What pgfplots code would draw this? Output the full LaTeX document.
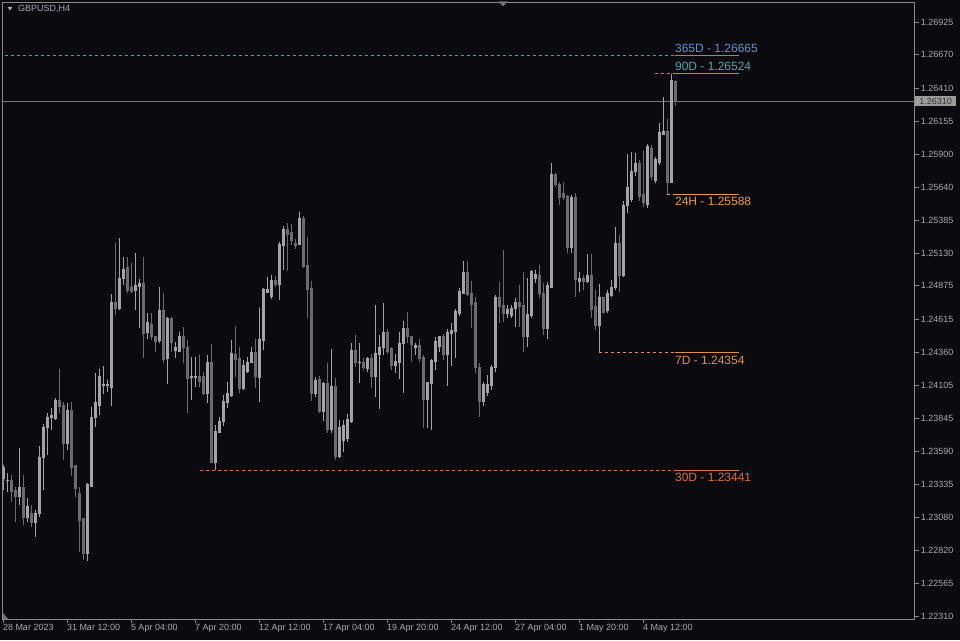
\documentclass[border=0pt]{standalone}
\usepackage{pgfplots}
\pgfplotsset{compat=1.18}
\usepackage{pgfplotstable}
\usepackage{fontspec}
\setmainfont{Liberation Sans}
\definecolor{bg}{HTML}{0B0B0F}
\definecolor{axisc}{HTML}{8A8A8A}
\definecolor{labc}{HTML}{A6A8AE}
\definecolor{bull}{HTML}{A3A3AA}
\definecolor{bear}{HTML}{6C6C70}
\definecolor{pricec}{HTML}{767676}
\definecolor{pricebox}{HTML}{9C9C9C}
\definecolor{lvA}{HTML}{5A92D2}
\definecolor{lvB}{HTML}{52A6AC}
\definecolor{lvC}{HTML}{E29C4E}
\definecolor{lvD}{HTML}{DD914C}
\definecolor{lvE}{HTML}{DA7040}
\newcommand\fsnine{\fontsize{9}{10}\selectfont}
\newcommand\fstw{\fontsize{12}{13}\selectfont}
\pgfplotstableread{
i o h l c
0 1.23382 1.23483 1.23289 1.23467
1 1.23366 1.23421 1.23273 1.23366
2 1.23366 1.23405 1.23195 1.23281
3 1.23289 1.23312 1.23040 1.23242
4 1.23242 1.23615 1.23172 1.23312
5 1.23312 1.23405 1.23017 1.23079
6 1.23079 1.23227 1.23040 1.23164
7 1.23110 1.23172 1.23001 1.23040
8 1.23040 1.23133 1.22924 1.23110
9 1.23110 1.23631 1.23079 1.23545
10 1.23545 1.23802 1.23289 1.23778
11 1.23778 1.23887 1.23561 1.23856
12 1.23856 1.23926 1.23755 1.23871
13 1.23848 1.24004 1.23833 1.23988
14 1.23988 1.24229 1.23887 1.23941
15 1.23949 1.23972 1.23522 1.23654
16 1.23654 1.23965 1.23599 1.23910
17 1.23910 1.23972 1.23397 1.23467
18 1.23483 1.23483 1.23234 1.23304
19 1.23265 1.23312 1.22807 1.23056
20 1.23071 1.23071 1.22745 1.22799
21 1.22799 1.23343 1.22737 1.23328
22 1.23320 1.23934 1.23312 1.23856
23 1.23856 1.24198 1.23778 1.23965
24 1.23949 1.24229 1.23871 1.24174
25 1.24105 1.24252 1.24035 1.24105
26 1.24105 1.24143 1.24050 1.24105
27 1.24089 1.24812 1.23941 1.24749
28 1.24749 1.25208 1.24648 1.24703
29 1.24703 1.25247 1.24687 1.24936
30 1.24936 1.25099 1.24882 1.25006
31 1.25021 1.25099 1.24819 1.24843
32 1.24866 1.25052 1.24819 1.24835
33 1.24843 1.25130 1.24687 1.24874
34 1.24874 1.24928 1.24547 1.24897
35 1.24897 1.25099 1.24314 1.24509
36 1.24516 1.24664 1.24462 1.24594
37 1.24571 1.24664 1.24454 1.24478
38 1.24485 1.24485 1.24361 1.24446
39 1.24454 1.24866 1.24431 1.24680
40 1.24680 1.24819 1.24275 1.24307
41 1.24314 1.24633 1.24112 1.24625
42 1.24625 1.24633 1.24361 1.24439
43 1.24376 1.24439 1.24314 1.24400
44 1.24369 1.24516 1.24361 1.24478
45 1.24478 1.24555 1.24275 1.24400
46 1.24400 1.24454 1.23887 1.24159
47 1.24167 1.24322 1.23988 1.24167
48 1.24167 1.24322 1.24089 1.24167
49 1.24167 1.24338 1.24089 1.24136
50 1.24167 1.24206 1.24027 1.24042
51 1.24042 1.24338 1.23965 1.24283
52 1.24283 1.24423 1.23498 1.23506
53 1.23506 1.23794 1.23441 1.23747
54 1.23739 1.23856 1.23732 1.23825
55 1.23825 1.24027 1.23786 1.23980
56 1.23972 1.24128 1.23926 1.24035
57 1.24027 1.24454 1.24011 1.24353
58 1.24345 1.24563 1.24167 1.24307
59 1.24314 1.24400 1.24042 1.24081
60 1.24081 1.24299 1.24066 1.24260
61 1.24213 1.24322 1.24198 1.24283
62 1.24283 1.24400 1.24275 1.24361
63 1.24361 1.24462 1.24081 1.24174
64 1.24167 1.24703 1.23972 1.24462
65 1.24454 1.24858 1.24376 1.24843
66 1.24827 1.24944 1.24819 1.24843
67 1.24796 1.24959 1.24773 1.24920
68 1.24920 1.24951 1.24866 1.24882
69 1.24882 1.25216 1.24765 1.25200
70 1.25192 1.25340 1.24998 1.25309
71 1.25309 1.25363 1.24990 1.25278
72 1.25286 1.25356 1.25192 1.25231
73 1.25208 1.25239 1.25161 1.25192
74 1.25200 1.25449 1.25192 1.25402
75 1.25402 1.25418 1.25014 1.25029
76 1.25037 1.25255 1.24625 1.24850
77 1.24858 1.24913 1.23980 1.24042
78 1.24042 1.24167 1.24011 1.24136
79 1.24151 1.24174 1.23887 1.23903
80 1.23903 1.24128 1.23825 1.24120
81 1.24120 1.24275 1.23732 1.23763
82 1.23763 1.24384 1.23732 1.24097
83 1.24097 1.24159 1.23522 1.23553
84 1.23553 1.23833 1.23537 1.23778
85 1.23677 1.23833 1.23584 1.23794
86 1.23693 1.23879 1.23662 1.23840
87 1.23825 1.24431 1.23810 1.24376
88 1.24376 1.24493 1.24244 1.24283
89 1.24283 1.24431 1.24120 1.24283
90 1.24283 1.24314 1.24221 1.24244
91 1.24237 1.24322 1.24206 1.24314
92 1.24307 1.24345 1.24081 1.24174
93 1.24174 1.24726 1.24011 1.24353
94 1.24345 1.24493 1.23918 1.24400
95 1.24400 1.24742 1.24338 1.24516
96 1.24516 1.24540 1.24345 1.24369
97 1.24392 1.24400 1.24221 1.24260
98 1.24260 1.24345 1.24198 1.24291
99 1.24283 1.24516 1.24151 1.24431
100 1.24431 1.24602 1.24042 1.24540
101 1.24540 1.24672 1.24431 1.24478
102 1.24478 1.24478 1.24283 1.24423
103 1.24400 1.24431 1.24338 1.24415
104 1.24415 1.24462 1.24283 1.24314
105 1.24322 1.24338 1.23770 1.23996
106 1.23996 1.24128 1.23770 1.24128
107 1.24120 1.24307 1.23755 1.24299
108 1.24291 1.24478 1.24221 1.24439
109 1.24408 1.24478 1.24361 1.24478
110 1.24478 1.24501 1.24299 1.24345
111 1.24345 1.24540 1.24097 1.24516
112 1.24509 1.24586 1.24252 1.24532
113 1.24524 1.24695 1.24314 1.24672
114 1.24664 1.24858 1.24641 1.24835
115 1.24819 1.25068 1.24812 1.24975
116 1.24975 1.25068 1.24796 1.24812
117 1.24819 1.24913 1.24547 1.24734
118 1.24742 1.24788 1.24198 1.24244
119 1.24244 1.24275 1.23856 1.23980
120 1.23980 1.24128 1.23941 1.24112
121 1.24050 1.24182 1.24019 1.24112
122 1.24105 1.24260 1.24066 1.24244
123 1.24244 1.24804 1.24206 1.24788
124 1.24788 1.24905 1.24586 1.24718
125 1.24726 1.25153 1.24594 1.24664
126 1.24664 1.24726 1.24625 1.24695
127 1.24648 1.24726 1.24625 1.24703
128 1.24703 1.24781 1.24555 1.24742
129 1.24742 1.24882 1.24555 1.24718
130 1.24726 1.24983 1.24361 1.24478
131 1.24478 1.24936 1.24400 1.24656
132 1.24648 1.24998 1.24625 1.24983
133 1.24936 1.24998 1.24897 1.24967
134 1.24959 1.25037 1.24781 1.24819
135 1.24819 1.24897 1.24493 1.24547
136 1.24547 1.24905 1.24462 1.24874
137 1.24866 1.25829 1.24858 1.25744
138 1.25744 1.25752 1.25643 1.25666
139 1.25659 1.25682 1.25503 1.25565
140 1.25589 1.25682 1.25542 1.25565
141 1.25573 1.25581 1.25130 1.25177
142 1.25177 1.25581 1.25130 1.25558
143 1.25558 1.25596 1.24788 1.24928
144 1.24913 1.24983 1.24827 1.24936
145 1.24936 1.24959 1.24843 1.24913
146 1.24913 1.25122 1.24897 1.24959
147 1.24959 1.25122 1.24625 1.24695
148 1.24711 1.24843 1.24532 1.24571
149 1.24571 1.24889 1.24354 1.24781
150 1.24781 1.24788 1.24664 1.24672
151 1.24680 1.24843 1.24664 1.24819
152 1.24804 1.24920 1.24788 1.24866
153 1.24866 1.25332 1.24843 1.25208
154 1.25208 1.25270 1.24827 1.24959
155 1.24959 1.25534 1.24944 1.25503
156 1.25503 1.25899 1.25441 1.25643
157 1.25550 1.25915 1.25526 1.25767
158 1.25760 1.25907 1.25728 1.25822
159 1.25822 1.25853 1.25534 1.25573
160 1.25581 1.25923 1.25488 1.25519
161 1.25511 1.25977 1.25480 1.25954
162 1.25946 1.25969 1.25697 1.25721
163 1.25697 1.25876 1.25674 1.25853
164 1.25837 1.26140 1.25814 1.26063
165 1.26055 1.26342 1.26047 1.26071
166 1.26071 1.26171 1.25588 1.25682
167 1.25682 1.26524 1.25674 1.26474
168 1.26459 1.26474 1.26272 1.26310
}\candles
\begin{document}
\begin{tikzpicture}[x=1pt,y=1pt]
\fill[bg] (0,0) rectangle (960,640);
\useasboundingbox (0,0) rectangle (960,640);
\begin{axis}[
  at={(2.5pt,21pt)}, anchor=south west,
  scale only axis, width=912.2pt, height=616.3pt,
  xmin=-0.2, xmax=227.85, ymin=1.22287, ymax=1.27075,
  axis line style={draw=axisc, line width=0.8pt},
  tick style={draw=axisc, line width=0.8pt},
  tick align=outside, major tick length=4pt,
  xtick pos=left, xticklabel pos=left,
  ytick pos=right, yticklabel pos=right,
  xtick={0,16,32,48,64,80,96,112,128,144,160},
  xticklabels={28 Mar 2023,31 Mar 12:00,5 Apr 04:00,7 Apr 20:00,12 Apr 12:00,17 Apr 04:00,19 Apr 20:00,24 Apr 12:00,27 Apr 04:00,1 May 20:00,4 May 12:00},
  ytick={1.22310,1.22565,1.22820,1.23080,1.23335,1.23590,1.23845,1.24105,1.24360,1.24615,1.24875,1.25130,1.25385,1.25640,1.25900,1.26155,1.26410,1.26670,1.26925},
  yticklabels={1.22310,1.22565,1.22820,1.23080,1.23335,1.23590,1.23845,1.24105,1.24360,1.24615,1.24875,1.25130,1.25385,1.25640,1.25900,1.26155,1.26410,1.26670,1.26925},
  xticklabel style={anchor=north west, font=\fsnine, text=labc, inner sep=1pt, xshift=-1.5pt},
  yticklabel style={anchor=west, font=\fsnine, text=labc, inner sep=1pt, xshift=1pt},
]
% price line
\addplot[color=pricec, line width=0.9pt] coordinates {(-0.2,1.26310) (227.85,1.26310)};
% wicks and bodies as vertical segments (quiver without arrow heads)
\addplot[mark=none, draw=bull, line width=1pt,
  restrict expr to domain={\thisrow{c}-\thisrow{o}}{0:1},
  quiver={u=0, v={\thisrow{h}-\thisrow{l}}}]
  table[x=i, y=l] {\candles};
\addplot[mark=none, draw=bull, line width=3pt,
  restrict expr to domain={\thisrow{c}-\thisrow{o}}{0:1},
  quiver={u=0, v={\thisrow{c}-\thisrow{o}+0.00008}}]
  table[x=i, y expr={\thisrow{o}-0.00004}] {\candles};
\addplot[mark=none, draw=bear, line width=1pt,
  restrict expr to domain={\thisrow{c}-\thisrow{o}}{-1:-0.000001},
  quiver={u=0, v={\thisrow{h}-\thisrow{l}}}]
  table[x=i, y=l] {\candles};
\addplot[mark=none, draw=bear, line width=3pt,
  restrict expr to domain={\thisrow{c}-\thisrow{o}}{-1:-0.000001},
  quiver={u=0, v={\thisrow{o}-\thisrow{c}+0.00008}}]
  table[x=i, y expr={\thisrow{c}-0.00004}] {\candles};
% levels
\addplot[color=lvA, line width=1pt, dash pattern=on 3pt off 3pt] coordinates {(0.4,1.26665) (167.9,1.26665)};
\addplot[color=lvA, line width=1pt] coordinates {(167.9,1.26665) (183.9,1.26665)};
\node[anchor=south west, inner sep=0pt, text=lvA, font=\fstw, yshift=2.5pt] at (axis cs:167.9,1.26665) {365D - 1.26665};
\addplot[color=lvB, line width=1pt, dash pattern=on 3pt off 3pt] coordinates {(163,1.26524) (167.9,1.26524)};
\addplot[color=lvB, line width=1pt] coordinates {(167.9,1.26524) (183.9,1.26524)};
\node[anchor=south west, inner sep=0pt, text=lvB, font=\fstw, yshift=2.5pt] at (axis cs:167.9,1.26524) {90D - 1.26524};
\addplot[color=lvC, line width=1pt, dash pattern=on 3pt off 3pt] coordinates {(166,1.25588) (167.9,1.25588)};
\addplot[color=lvC, line width=1pt] coordinates {(167.9,1.25588) (183.9,1.25588)};
\node[anchor=north west, inner sep=0pt, text=lvC, font=\fstw, yshift=-2.5pt] at (axis cs:167.9,1.25588) {24H - 1.25588};
\addplot[color=lvD, line width=1pt, dash pattern=on 3pt off 3pt] coordinates {(149,1.24354) (167.9,1.24354)};
\addplot[color=lvD, line width=1pt] coordinates {(167.9,1.24354) (183.9,1.24354)};
\node[anchor=north west, inner sep=0pt, text=lvD, font=\fstw, yshift=-2.5pt] at (axis cs:167.9,1.24354) {7D - 1.24354};
\addplot[color=lvE, line width=1pt, dash pattern=on 3pt off 3pt] coordinates {(49.2,1.23441) (167.9,1.23441)};
\addplot[color=lvE, line width=1pt] coordinates {(167.9,1.23441) (183.9,1.23441)};
\node[anchor=north west, inner sep=0pt, text=lvE, font=\fstw, yshift=-2.5pt] at (axis cs:167.9,1.23441) {30D - 1.23441};
\coordinate (cp) at (axis cs:227.85,1.26310);
\end{axis}
\node[anchor=west, fill=pricebox, text=black!80, font=\fsnine, inner xsep=4.5pt, inner ysep=0pt, minimum height=10pt] at (cp) {1.26310};
% title
\fill[labc] (7.5,633) -- (12.5,633) -- (10,629.5) -- cycle;
\node[anchor=west, inner sep=0pt, text=labc, font=\fsnine] at (18,631) {GBPUSD,H4};
% top marker
\fill[black!55] (498.5,638.5) -- (507.5,638.5) -- (503,633.5) -- cycle;
\fill[black!55] (3,27) -- (3,21) -- (8,21) -- cycle;
\end{tikzpicture}
\end{document}
